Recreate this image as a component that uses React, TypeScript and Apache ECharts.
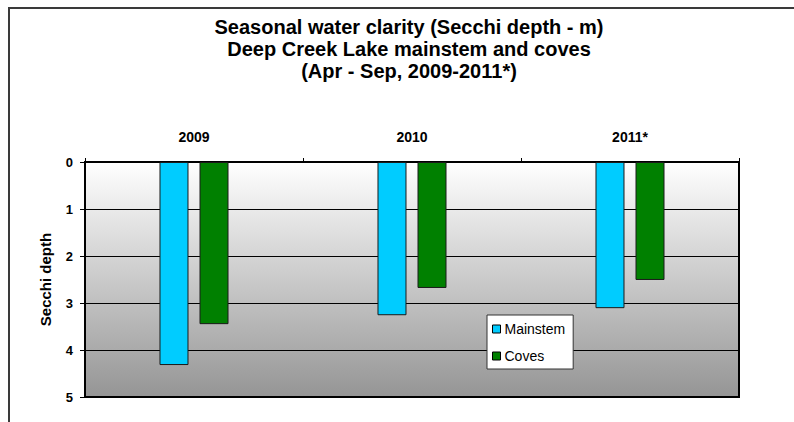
import React, { useEffect, useRef } from "react";
import * as echarts from "echarts";

const categories = ["2009", "2010", "2011*"];
const mainstem = [4.32, 3.26, 3.11];
const coves = [3.45, 2.68, 2.51];
const seriesNames = ["Mainstem", "Coves"];
const yTicks = { min: 0, max: 5, interval: 1 };

const FONT = "'Liberation Sans', Arial, Helvetica, sans-serif";

export default function App() {
  const ref = useRef<HTMLDivElement>(null);
  useEffect(() => {
    if (!ref.current) return;
    const chart = echarts.init(ref.current, undefined, { renderer: "svg" });
    chart.setOption({
      animation: false,
      backgroundColor: "#ffffff",
      textStyle: { fontFamily: FONT },
      title: {
        text: "Seasonal water clarity (Secchi depth - m)\nDeep Creek Lake mainstem and coves\n(Apr - Sep, 2009-2011*)",
        left: 409,
        top: 16,
        padding: 0,
        textAlign: "center",
        textStyle: {
          fontFamily: FONT,
          fontSize: 20,
          fontWeight: "bold",
          color: "#000",
          lineHeight: 22,
          align: "center",
        },
      },
      graphic: [
        {
          type: "rect",
          shape: { x: 9, y: 8, width: 800, height: 430 },
          style: { fill: "none", stroke: "#3a3a3a", lineWidth: 2 },
          silent: true,
          z: -1,
        },
      ],
      legend: {
        data: seriesNames,
        orient: "vertical",
        left: 487,
        top: 315,
        width: 87,
        backgroundColor: "#ffffff",
        borderColor: "#333",
        borderWidth: 1,
        borderRadius: 0,
        padding: [7, 8, 6, 5],
        itemWidth: 8,
        itemHeight: 8,
        itemGap: 13,
        icon: "rect",
        itemStyle: { borderColor: "#000", borderWidth: 1 },
        textStyle: { fontFamily: FONT, fontSize: 14, color: "#000", padding: [0, 0, 0, -1] },
      },
      grid: {
        left: 85,
        top: 162,
        width: 654,
        height: 235,
        show: true,
        borderColor: "#000",
        borderWidth: 2,
        backgroundColor: new echarts.graphic.LinearGradient(0, 0, 0, 1, [
          { offset: 0, color: "#ffffff" },
          { offset: 1, color: "#959595" },
        ]),
      },
      xAxis: {
        type: "category",
        data: categories,
        position: "top",
        axisLine: { show: true, lineStyle: { color: "#000", width: 2 } },
        axisTick: { show: true, length: 4, lineStyle: { color: "#000", width: 1 } },
        axisLabel: {
          fontFamily: FONT,
          fontSize: 14,
          fontWeight: "bold",
          color: "#000",
          margin: 18,
        },
        splitLine: { show: false },
      },
      yAxis: {
        type: "value",
        inverse: true,
        min: yTicks.min,
        max: yTicks.max,
        interval: yTicks.interval,
        name: "Secchi depth",
        nameLocation: "middle",
        nameGap: 32,
        nameTextStyle: { fontFamily: FONT, fontSize: 15, fontWeight: "bold", color: "#000" },
        axisLine: { show: true, lineStyle: { color: "#000", width: 2 } },
        axisTick: { show: true, length: 5, lineStyle: { color: "#000", width: 1 } },
        axisLabel: {
          fontFamily: FONT,
          fontSize: 13,
          fontWeight: "bold",
          color: "#000",
          margin: 12,
        },
        splitLine: { show: true, lineStyle: { color: "#000", width: 1 } },
      },
      series: [
        {
          name: seriesNames[0],
          type: "bar",
          data: mainstem,
          barWidth: 29,
          barGap: "38%",
          itemStyle: { color: "#00CCFF", borderColor: "#1a1a1a", borderWidth: 1 },
        },
        {
          name: seriesNames[1],
          type: "bar",
          data: coves,
          barWidth: 29,
          barGap: "38%",
          itemStyle: { color: "#008000", borderColor: "#1a1a1a", borderWidth: 1 },
        },
      ],
    });
    return () => chart.dispose();
  }, []);
  return (
    <div
      ref={ref}
      style={{ position: "fixed", left: 0, top: 0, width: 794, height: 422 }}
    />
  );
}
